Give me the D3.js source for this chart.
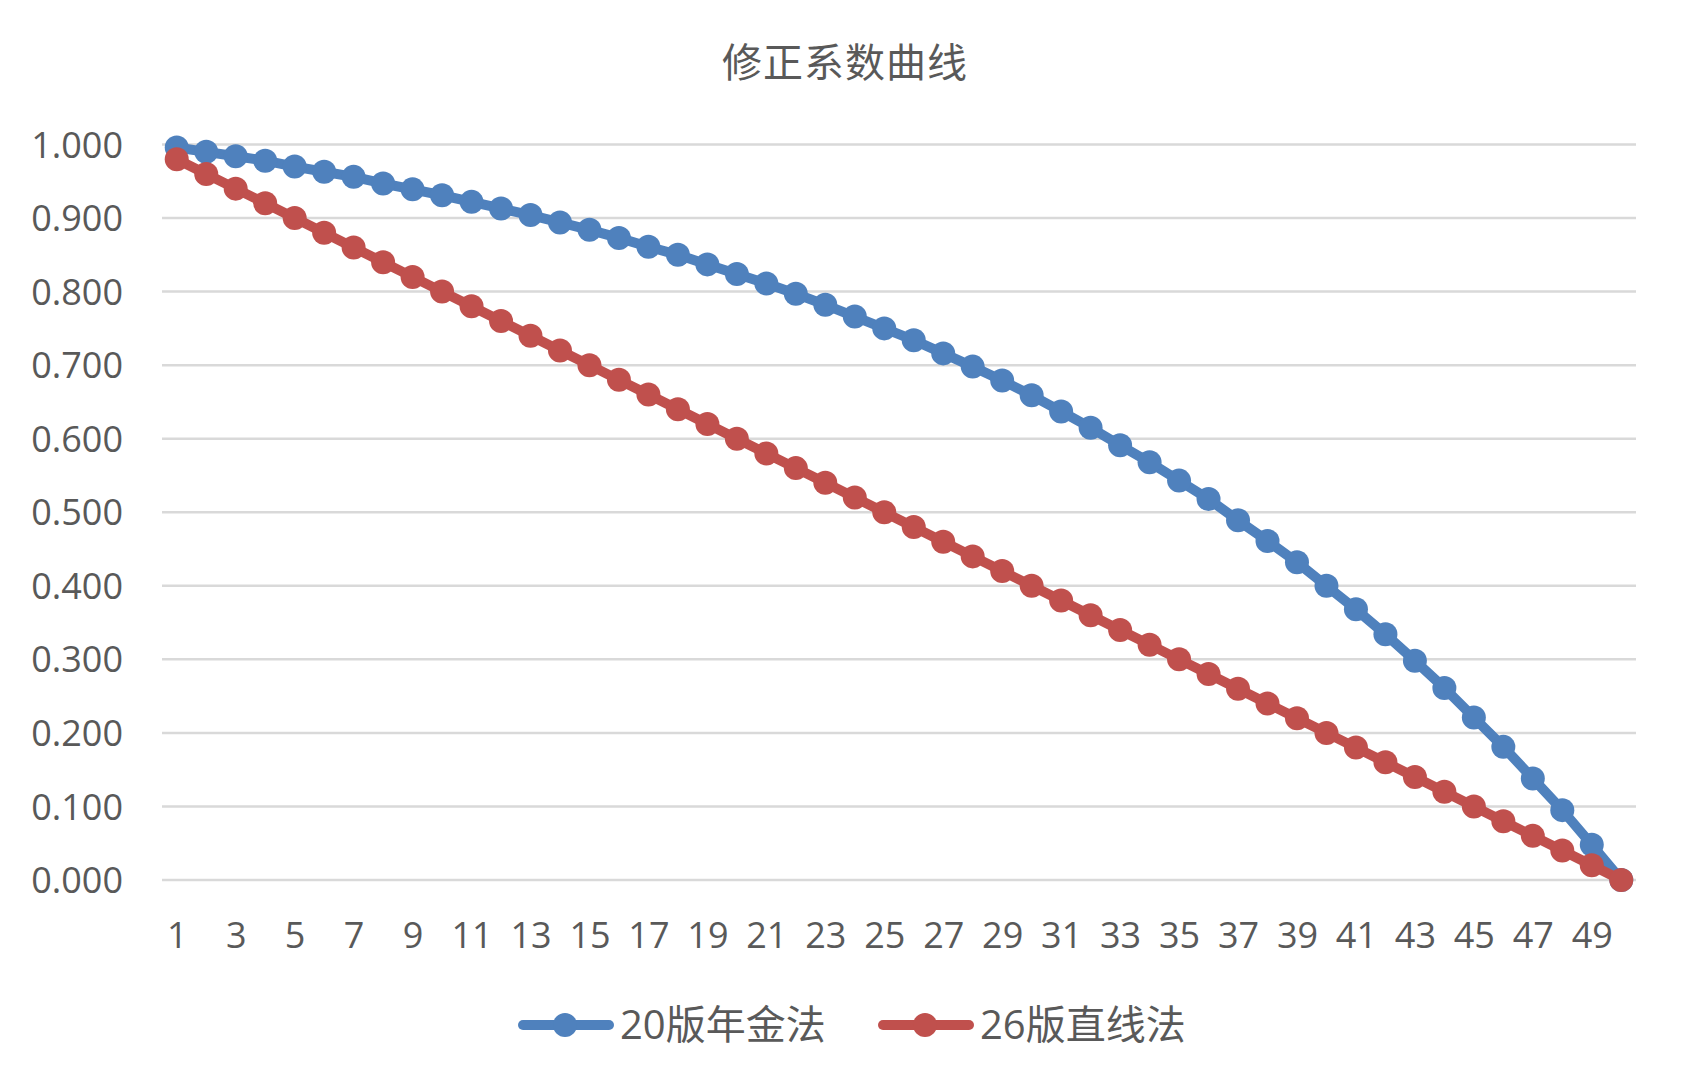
<!DOCTYPE html>
<html>
<head>
<meta charset="utf-8">
<script src="https://cdn.jsdelivr.net/npm/d3@7"></script>
<style>
  body { margin: 0; background: #fff; }
  text { font-family: "Open Sans", "Noto Sans CJK SC", sans-serif; fill: #595959; }
</style>
</head>
<body>
<script>
const svgWidth = 1691
const svgHeight = 1092

const margin = { top: 144.5, right: 55, bottom: 212, left: 162 }

const chartWidth = svgWidth - margin.left - margin.right
const chartHeight = svgHeight - margin.top - margin.bottom

const title = "修正系数曲线"

const categories = [1, 2, 3, 4, 5, 6, 7, 8, 9, 10,
  11, 12, 13, 14, 15, 16, 17, 18, 19, 20,
  21, 22, 23, 24, 25, 26, 27, 28, 29, 30,
  31, 32, 33, 34, 35, 36, 37, 38, 39, 40,
  41, 42, 43, 44, 45, 46, 47, 48, 49, 50]

const xTickLabels = [1, 3, 5, 7, 9, 11, 13, 15, 17, 19, 21, 23, 25,
  27, 29, 31, 33, 35, 37, 39, 41, 43, 45, 47, 49]

const yTicks = [0, 0.1, 0.2, 0.3, 0.4, 0.5, 0.6, 0.7, 0.8, 0.9, 1.0]

const annuityName = "20版年金法"
const annuityValues = [0.996, 0.990, 0.984, 0.978, 0.970, 0.963, 0.956, 0.947, 0.939, 0.931,
  0.922, 0.913, 0.904, 0.894, 0.884, 0.873, 0.861, 0.850, 0.837, 0.824,
  0.811, 0.797, 0.782, 0.766, 0.750, 0.734, 0.716, 0.698, 0.679, 0.659,
  0.637, 0.615, 0.591, 0.568, 0.543, 0.518, 0.489, 0.461, 0.432, 0.400,
  0.368, 0.334, 0.298, 0.261, 0.221, 0.181, 0.138, 0.095, 0.048, 0.000]

const linearName = "26版直线法"
const linearValues = [0.98, 0.96, 0.94, 0.92, 0.90, 0.88, 0.86, 0.84, 0.82, 0.80,
  0.78, 0.76, 0.74, 0.72, 0.70, 0.68, 0.66, 0.64, 0.62, 0.60,
  0.58, 0.56, 0.54, 0.52, 0.50, 0.48, 0.46, 0.44, 0.42, 0.40,
  0.38, 0.36, 0.34, 0.32, 0.30, 0.28, 0.26, 0.24, 0.22, 0.20,
  0.18, 0.16, 0.14, 0.12, 0.10, 0.08, 0.06, 0.04, 0.02, 0.00]

const series = [
  { name: annuityName, values: annuityValues, color: "#4F81BD" },
  { name: linearName, values: linearValues, color: "#C0504D" }
]

const lineWidth = 10
const markerRadius = 12

const svg = d3.select("body").append("svg")
  .attr("width", svgWidth)
  .attr("height", svgHeight)

svg.append("text")
  .attr("x", 845)
  .attr("y", 77)
  .attr("text-anchor", "middle")
  .attr("font-family", "Noto Sans CJK SC")
  .attr("font-size", "40px")
  .attr("letter-spacing", "1px")
  .text(title)

const chartG = svg.append("g")
  .attr("transform", `translate(${margin.left}, ${margin.top})`)

const x = d3.scalePoint()
  .domain(categories)
  .range([0, chartWidth])
  .padding(0.5)

const y = d3.scaleLinear()
  .domain([0, 1])
  .range([chartHeight, 0])

// gridlines
chartG.append("g")
  .selectAll("line")
  .data(yTicks)
  .enter()
  .append("line")
  .attr("x1", 0)
  .attr("x2", chartWidth)
  .attr("y1", d => y(d))
  .attr("y2", d => y(d))
  .attr("stroke", "#D9D9D9")
  .attr("stroke-width", 2.5)

const yAxis = d3.axisLeft(y)
  .tickValues(yTicks)
  .tickFormat(d3.format(".3f"))
  .tickSize(0)
  .tickPadding(39)

const yAxisG = chartG.append("g").call(yAxis)
yAxisG.select(".domain").remove()
yAxisG.selectAll("text")
  .attr("font-size", "36px")
  .attr("font-family", "Open Sans")
  .attr("fill", "#595959")
  .attr("dy", "0.35em")

const xAxis = d3.axisBottom(x)
  .tickValues(xTickLabels)
  .tickSize(0)
  .tickPadding(42)

const xAxisG = chartG.append("g")
  .attr("transform", `translate(0, ${chartHeight})`)
  .call(xAxis)
xAxisG.select(".domain").remove()
xAxisG.selectAll("text")
  .attr("font-size", "36px")
  .attr("font-family", "Open Sans")
  .attr("fill", "#595959")

const line = d3.line()
  .x((d, i) => x(categories[i]))
  .y(d => y(d))

const plotArea = chartG.append("g")

series.forEach(s => {
  const g = plotArea.append("g")
  g.append("path")
    .datum(s.values)
    .attr("d", line)
    .attr("fill", "none")
    .attr("stroke", s.color)
    .attr("stroke-width", lineWidth)
    .attr("stroke-linejoin", "round")
    .attr("stroke-linecap", "round")
  g.selectAll("circle")
    .data(s.values)
    .enter()
    .append("circle")
    .attr("cx", (d, i) => x(categories[i]))
    .attr("cy", d => y(d))
    .attr("r", markerRadius)
    .attr("fill", s.color)
})

// legend
const legendY = 1025
const legendItems = [
  { x: 519, s: series[0] },
  { x: 879, s: series[1] }
]

const legendG = svg.append("g")
legendItems.forEach(item => {
  const g = legendG.append("g")
    .attr("transform", `translate(${item.x}, ${legendY})`)
  g.append("line")
    .attr("x1", 4)
    .attr("x2", 90)
    .attr("stroke", item.s.color)
    .attr("stroke-width", lineWidth)
    .attr("stroke-linecap", "round")
  g.append("circle")
    .attr("cx", 46)
    .attr("r", markerRadius)
    .attr("fill", item.s.color)
  g.append("text")
    .attr("x", 101)
    .attr("dy", "0.36em")
    .attr("font-size", "40px")
    .text(item.s.name)
})
</script>
</body>
</html>
